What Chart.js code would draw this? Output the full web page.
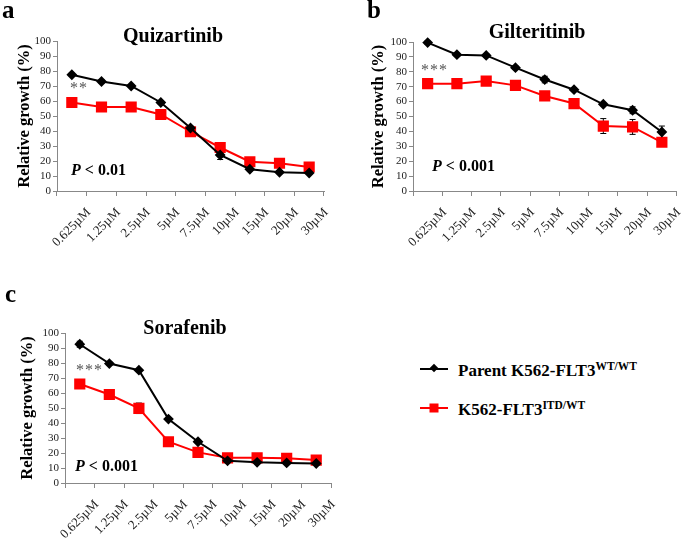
<!DOCTYPE html>
<html>
<head>
<meta charset="utf-8">
<script src="https://cdn.jsdelivr.net/npm/chart.js@4.4.1/dist/chart.umd.min.js"></script>
<style>
  html, body { margin: 0; padding: 0; background: #fff; }
  #fig { position: relative; width: 685px; height: 538px; overflow: hidden; font-family: 'Liberation Serif', 'Times New Roman', serif; color: #000; }
  #fig canvas { position: absolute; }
  .txt { position: absolute; white-space: nowrap; line-height: 1; }
  .letter { font-size: 25px; font-weight: bold; }
  .title { font-size: 20px; font-weight: bold; transform: translateX(-50%); }
  .pval { font-size: 16px; font-weight: bold; }
  .pval i { font-style: italic; }
  .stars { font-size: 16px; color: #555; letter-spacing: 1px; }
  .leg { font-size: 17px; font-weight: bold; }
  .leg sup { font-size: 11.5px; vertical-align: 6px; }
  #legendMarks { position: absolute; left: 415px; top: 355px; }
</style>
</head>
<body>
<div id="fig">
  <canvas id="chartA" width="340" height="265" style="left:0;top:0"></canvas>
  <canvas id="chartB" width="345" height="265" style="left:340px;top:0"></canvas>
  <canvas id="chartC" width="340" height="268" style="left:0;top:270px"></canvas>

  <div class="txt letter" style="left:2px;top:-3px">a</div>
  <div class="txt letter" style="left:367px;top:-3px">b</div>
  <div class="txt letter" style="left:5px;top:281px">c</div>

  <div class="txt title" style="left:173px;top:25px">Quizartinib</div>
  <div class="txt title" style="left:537px;top:21px">Gilteritinib</div>
  <div class="txt title" style="left:185px;top:317px">Sorafenib</div>

  <div class="txt stars" style="left:70px;top:80px">**</div>
  <div class="txt stars" style="left:421px;top:62px">***</div>
  <div class="txt stars" style="left:76px;top:362px">***</div>

  <div class="txt pval" style="left:71px;top:162px"><i>P</i> &lt; 0.01</div>
  <div class="txt pval" style="left:432px;top:158px"><i>P</i> &lt; 0.001</div>
  <div class="txt pval" style="left:75px;top:458px"><i>P</i> &lt; 0.001</div>

  <svg id="legendMarks" width="40" height="70">
    <line x1="5" y1="14" x2="33" y2="14" stroke="#000" stroke-width="2"/>
    <rect x="16" y="10" width="6" height="6" fill="#000" transform="rotate(45 19 13)"/>
    <line x1="5" y1="53" x2="33" y2="53" stroke="#ff0000" stroke-width="2"/>
    <rect x="14.5" y="48.5" width="9" height="9" fill="#ff0000"/>
  </svg>
  <div class="txt leg" style="left:458px;top:361px">Parent K562-FLT3<sup>WT/WT</sup></div>
  <div class="txt leg" style="left:458px;top:400px">K562-FLT3<sup>ITD/WT</sup></div>
</div>

<script>
// concentrations on the x axis
const doses = ['0.625µM', '1.25µM', '2.5µM', '5µM', '7.5µM', '10µM', '15µM', '20µM', '30µM'];

// relative growth (%), with error bars
const quizParent    = [77.5, 73, 70, 59, 42, 24, 14.5, 12.5, 12];
const quizParentErr = [1, 1, 1, 1, 1.2, 3, 1, 1, 1];
const quizItd       = [59, 56, 56, 51, 39.5, 29, 19.5, 18.5, 16];
const quizItdErr    = [1, 1, 1, 1, 2, 1, 1, 1, 1];

const gilParent     = [99.6, 91.5, 91, 82.8, 74.8, 68, 58.2, 54.2, 39.6];
const gilParentErr  = [1, 1, 1, 1, 2.2, 1.2, 1, 2.3, 4];
const gilItd        = [72, 72, 73.8, 70.9, 63.8, 58.7, 43.6, 43, 32.7];
const gilItdErr     = [1, 1, 1, 1, 1, 1, 5, 5, 2];

const soraParent    = [92.5, 79.6, 75.2, 42.6, 27.5, 14.8, 13.8, 13.4, 13];
const soraParentErr = [2, 1, 1, 1, 1, 1, 1, 1, 1];
const soraItd       = [66, 59, 49.8, 27.5, 20.4, 16.8, 16.8, 16.5, 15.3];
const soraItdErr    = [1, 1, 3.5, 1, 1, 1, 1, 1, 1];

const yMax = 100;
const yStep = 10;

const axisGray = '#888';
Chart.defaults.font.family = 'Liberation Serif, Times New Roman, serif';

// draws +/- error bars under the markers, using the y scale
const errorBars = {
    id: 'errorBars',
    beforeDatasetsDraw(chart) {
        const ctx = chart.ctx;
        const y = chart.scales.y;
        chart.data.datasets.forEach((ds, i) => {
            const meta = chart.getDatasetMeta(i);
            meta.data.forEach((pt, j) => {
                const err = ds.errors ? ds.errors[j] : 0;
                if (!err) return;
                const v = ds.data[j];
                const top = y.getPixelForValue(v + err);
                const bot = y.getPixelForValue(v - err);
                ctx.save();
                ctx.strokeStyle = '#000';
                ctx.lineWidth = 1;
                ctx.beginPath();
                ctx.moveTo(pt.x, top); ctx.lineTo(pt.x, bot);
                ctx.moveTo(pt.x - 3, top); ctx.lineTo(pt.x + 3, top);
                ctx.moveTo(pt.x - 3, bot); ctx.lineTo(pt.x + 3, bot);
                ctx.stroke();
                ctx.restore();
            });
        });
    }
};

function makeChart(id, parent, parentErr, itd, itdErr, box) {
    const ctx = document.getElementById(id).getContext('2d');
    return new Chart(ctx, {
        type: 'line',
        data: {
            labels: doses,
            datasets: [
                {
                    label: 'Parent K562-FLT3 WT/WT',
                    data: parent,
                    errors: parentErr,
                    borderColor: '#000',
                    backgroundColor: '#000',
                    borderWidth: 2,
                    pointStyle: 'rectRot',
                    pointRadius: 4,
                    tension: 0,
                    clip: false
                },
                {
                    label: 'K562-FLT3 ITD/WT',
                    data: itd,
                    errors: itdErr,
                    borderColor: '#ff0000',
                    backgroundColor: '#ff0000',
                    borderWidth: 2,
                    pointStyle: 'rect',
                    pointRadius: 6.5,
                    tension: 0,
                    clip: false
                }
            ]
        },
        options: {
            responsive: false,
            animation: false,
            layout: {
                padding: { left: box.padLeft, top: box.padTop, right: box.padRight, bottom: 0 }
            },
            plugins: {
                legend: { display: false },
                tooltip: { enabled: false }
            },
            scales: {
                x: {
                    offset: true,
                    grid: {
                        offset: true,
                        drawOnChartArea: false,
                        drawTicks: true,
                        tickLength: 5,
                        color: axisGray
                    },
                    border: { color: axisGray, width: 1 },
                    ticks: {
                        autoSkip: false,
                        minRotation: 45,
                        maxRotation: 45,
                        labelOffset: 17,
                        padding: 9,
                        color: '#222',
                        font: { size: 13 }
                    },
                    afterFit: (scale) => { scale.height = box.xHeight; }
                },
                y: {
                    min: 0,
                    max: yMax,
                    grid: {
                        drawOnChartArea: false,
                        drawTicks: true,
                        tickLength: 4,
                        color: axisGray
                    },
                    border: { color: axisGray, width: 1 },
                    ticks: {
                        stepSize: yStep,
                        autoSkip: false,
                        padding: 2,
                        color: '#222',
                        font: { size: 11 }
                    },
                    title: {
                        display: true,
                        text: 'Relative growth (%)',
                        color: '#000',
                        font: { size: 16.5, weight: 'bold' },
                        padding: { top: 4, bottom: 4 }
                    },
                    afterFit: (scale) => { scale.width = box.yWidth; }
                }
            }
        },
        plugins: [errorBars]
    });
}

makeChart('chartA', quizParent, quizParentErr, quizItd, quizItdErr,
    { padLeft: 11, yWidth: 46, padTop: 41, padRight: 16, xHeight: 74 });
makeChart('chartB', gilParent, gilParentErr, gilItd, gilItdErr,
    { padLeft: 25, yWidth: 48, padTop: 42, padRight: 6, xHeight: 74 });
makeChart('chartC', soraParent, soraParentErr, soraItd, soraItdErr,
    { padLeft: 14, yWidth: 51, padTop: 63, padRight: 9, xHeight: 55 });
</script>
</body>
</html>
